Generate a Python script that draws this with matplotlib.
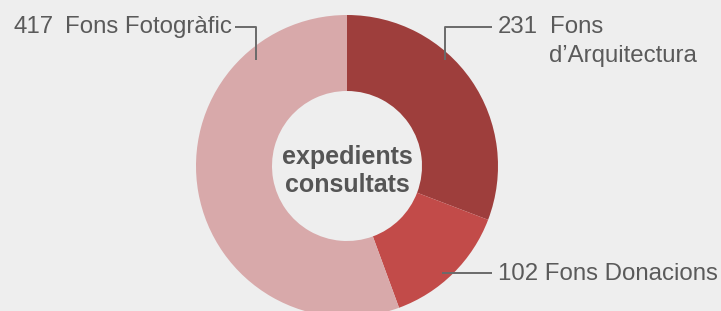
import matplotlib
matplotlib.use("Agg")
import matplotlib.pyplot as plt

categories = ["Fons d\u2019Arquitectura", "Fons Donacions", "Fons Fotogr\u00e0fic"]
values = [231, 102, 417]
colors = ["#9e3e3c", "#c24b49", "#d8a9aa"]
center_label = "expedients\nconsultats"

W, H = 721, 311
fig = plt.figure(figsize=(W / 100, H / 100), dpi=100, facecolor="#eeeeee")
ax = fig.add_axes([0, 0, 1, 1])
ax.set_facecolor("#eeeeee")

cx, cy, R = 347, H - 166, 151
ax.pie(values, colors=colors, startangle=90, counterclock=False,
       center=(cx, cy), radius=R, frame=True,
       wedgeprops=dict(width=R - 75, linewidth=0))
ax.set_xlim(0, W)
ax.set_ylim(0, H)
ax.set_aspect("equal")
ax.axis("off")

txt = "#5a5a5a"
lc = "#6a6a6a"
fam = ["Liberation Sans", "DejaVu Sans"]
fs = 17.3

def Y(p):
    return H - p

ax.text(cx, Y(157), "expedients", ha="center", va="center", fontsize=18,
        fontweight="bold", color="#555555", family=fam)
ax.text(cx, Y(185), "consultats", ha="center", va="center", fontsize=18,
        fontweight="bold", color="#555555", family=fam)

# Fons Fotogràfic
ax.text(13, Y(33), str(values[2]), ha="left", va="baseline", fontsize=fs, color=txt, family=fam)
ax.text(65, Y(33), categories[2], ha="left", va="baseline", fontsize=fs, color=txt, family=fam)
ax.plot([235, 256, 256], [Y(27), Y(27), Y(60)], color=lc, lw=1.4, solid_capstyle="butt")

# Fons d'Arquitectura
ax.text(498, Y(33), str(values[0]), ha="left", va="baseline", fontsize=fs, color=txt, family=fam)
ax.text(550, Y(33), "Fons", ha="left", va="baseline", fontsize=fs, color=txt, family=fam)
ax.text(549, Y(62), "d\u2019Arquitectura", ha="left", va="baseline", fontsize=fs, color=txt, family=fam)
ax.plot([492, 445, 445], [Y(27), Y(27), Y(60)], color=lc, lw=1.4, solid_capstyle="butt")

# Fons Donacions
ax.text(498, Y(280), f"{values[1]} {categories[1]}", ha="left", va="baseline", fontsize=fs,
        color=txt, family=fam)
ax.plot([442, 492], [Y(273), Y(273)], color=lc, lw=1.4, solid_capstyle="butt")

fig.savefig("out.png", dpi=100, facecolor=fig.get_facecolor())
